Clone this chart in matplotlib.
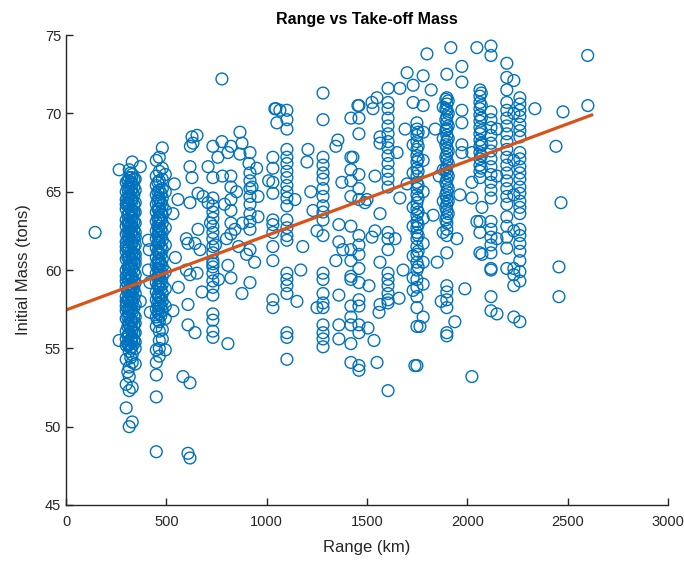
import matplotlib
matplotlib.use("Agg")
import matplotlib.pyplot as plt

plt.rcParams['font.family'] = ['Liberation Sans', 'DejaVu Sans']

# mass columns (tons) at fixed ranges (km)
col_ranges = [300, 308, 315, 323, 330, 338, 345, 312, 327, 450, 458, 465, 473, 480, 495,
              462, 732, 917, 822, 1031, 1101, 1281, 1420, 1460, 1605, 1730, 1749, 1755,
              1780, 1880, 1898, 1905, 1893, 2063, 2070, 2118, 2197, 2232, 2262]
col_masses = [
    [55.6, 56.1, 56.9, 57.4, 58.0, 58.3, 58.9, 59.6, 60.0, 60.7, 61.2, 61.5, 62.3, 62.8,
     63.2, 63.9, 64.5, 65.0, 65.6, 52.7, 54.3, 51.2, 55.2, 57.7, 59.3, 61.8, 64.2],
    [55.3, 55.8, 56.4, 57.0, 57.5, 58.1, 58.6, 59.1, 59.7, 60.2, 60.8, 61.3, 61.9, 62.4,
     63.0, 63.5, 64.1, 64.6, 65.2, 65.7, 53.5],
    [54.8, 55.3, 55.9, 56.5, 57.1, 57.6, 58.2, 58.7, 59.3, 59.8, 60.3, 60.9, 61.4, 62.0,
     62.5, 63.0, 63.6, 64.1, 64.7, 65.3, 65.9, 66.4, 53.8, 53.2, 50.0, 52.3, 60.1, 62.7],
    [55.0, 55.6, 56.3, 56.8, 57.4, 58.0, 58.5, 59.1, 59.6, 60.2, 60.7, 61.2, 61.8, 62.3,
     62.9, 63.4, 63.9, 64.5, 65.0, 65.6, 66.2, 54.4],
    [55.1, 55.7, 56.2, 56.7, 57.3, 57.9, 58.4, 59.0, 59.5, 60.1, 60.6, 61.1, 61.7, 62.2,
     62.8, 63.3, 63.8, 64.4, 64.9, 65.5, 66.1, 66.9, 54.1, 50.3, 52.5, 54.6, 58.7, 63.5],
    [55.5, 56.0, 56.5, 57.1, 57.6, 58.2, 58.8, 59.3, 59.9, 60.4, 61.0, 61.5, 62.1, 62.6,
     63.1, 63.7, 64.2, 64.8, 65.3, 65.8],
    [55.4, 56.0, 56.6, 57.0, 57.8, 58.5, 59.2, 59.7, 60.4, 61.0, 61.6, 62.4, 63.0, 63.7,
     64.3, 65.1, 65.8, 54.0, 55.0, 60.7, 62.1],
    [55.2, 55.9, 56.6, 57.3, 58.0, 58.7, 59.4, 60.1, 60.8, 61.5, 62.2, 62.9, 63.6, 64.3,
     65.0, 65.7],
    [55.4, 56.1, 56.8, 57.5, 58.2, 58.9, 59.6, 60.3, 61.0, 61.7, 62.4, 63.1, 63.8, 64.5,
     65.2, 65.9],
    [56.4, 57.0, 57.5, 58.1, 58.6, 59.2, 59.8, 60.3, 60.8, 61.4, 62.0, 62.5, 63.1, 63.7,
     64.2, 64.8, 65.4, 66.0, 67.0, 54.9, 54.1, 53.3, 51.9, 48.4],
    [56.8, 57.3, 57.9, 58.4, 59.0, 59.5, 60.1, 60.6, 61.2, 61.7, 62.2, 62.8, 63.3, 63.9,
     64.4, 65.0, 65.6],
    [55.5, 56.1, 56.7, 57.2, 57.8, 58.3, 58.9, 59.5, 60.0, 60.6, 61.1, 61.7, 62.3, 62.8,
     63.4, 63.9, 64.5, 65.1, 65.7, 66.3, 67.2, 54.5, 55.0],
    [57.1, 57.7, 58.2, 58.8, 59.3, 59.9, 60.4, 61.0, 61.5, 62.1, 62.6, 63.2, 63.7, 64.3,
     64.9],
    [57.4, 58.0, 58.5, 59.1, 59.6, 60.2, 60.7, 61.3, 61.9, 62.4, 63.0, 63.5, 64.1, 64.6,
     65.2, 65.8, 66.5, 67.8, 56.2, 55.6],
    [56.9, 58.8, 59.9, 61.6, 62.7, 63.8, 65.0, 66.1, 57.7, 54.9],
    [57.6, 58.3, 59.0, 59.7, 60.4, 61.1, 61.8, 62.5, 63.2, 63.9, 64.6],
    [58.4, 58.9, 59.3, 59.8, 60.2, 60.6, 61.1, 61.5, 62.0, 62.4, 62.8, 63.3, 63.7, 64.1,
     64.6, 65.9, 67.9, 57.2, 56.8, 56.1, 55.7, 60.4],
    [66.2, 65.7, 65.2, 64.7, 64.2, 63.6, 63.1, 62.6, 67.5, 61.3, 59.2],
    [66.0, 65.3, 64.5, 63.8, 63.0, 62.3, 59.5, 67.9],
    [67.2, 66.5, 65.6, 64.9, 62.9, 61.5, 60.6, 58.1, 57.6, 63.2, 62.4],
    [70.2, 69.6, 69.0, 67.7, 67.2, 66.8, 66.3, 65.9, 65.4, 65.0, 64.6, 64.1, 63.2, 62.7,
     62.2, 61.9, 59.8, 59.4, 59.0, 58.5, 56.0, 55.7, 54.3],
    [71.3, 69.6, 67.2, 66.7, 66.2, 65.8, 65.2, 64.7, 64.1, 63.7, 63.2, 62.2, 59.8, 59.4,
     58.5, 57.9, 57.6, 56.5, 56.0, 55.6, 55.1],
    [69.7, 67.2, 66.4, 65.7, 64.7, 62.8, 61.3, 60.6, 59.6, 59.4, 57.7, 57.0, 56.5, 55.3,
     54.1],
    [70.5, 69.7, 68.7, 66.1, 65.2, 64.5, 62.2, 61.6, 61.0, 60.1, 59.2, 58.1, 57.7, 56.5,
     56.0, 53.6, 53.9],
    [71.6, 70.7, 70.3, 69.7, 69.2, 68.7, 68.2, 67.8, 67.3, 66.8, 66.3, 65.8, 65.3, 62.4,
     62.0, 61.3, 59.8, 59.4, 59.0, 58.5, 58.1, 57.9, 52.3],
    [71.8, 70.7, 68.0, 66.2, 64.0, 62.8, 60.9, 59.5, 58.7],
    [69.4, 69.0, 68.6, 68.2, 67.7, 67.3, 66.9, 66.5, 66.0, 65.6, 65.2, 64.8, 64.3, 63.9,
     63.5, 63.1, 62.7, 62.4, 62.0, 61.5, 61.0, 60.5, 60.0, 59.4, 58.9, 58.3, 57.6, 56.4,
     53.9],
    [68.8, 67.9, 67.1, 66.3, 65.4, 64.6, 63.7, 62.9, 62.2, 61.2, 60.2],
    [72.4, 70.5, 68.8, 67.0, 65.0, 63.3, 61.7, 60.5, 59.1, 57.0],
    [70.4, 68.4, 66.4, 64.4, 62.4],
    [71.0, 70.6, 70.2, 69.8, 69.4, 69.0, 68.6, 68.2, 67.8, 67.4, 67.0, 66.6, 66.2, 65.8,
     65.4, 65.0, 64.6, 64.2, 63.8, 63.4, 63.0, 62.6, 62.2, 61.1, 59.0, 58.6, 58.1, 57.6,
     56.0, 55.8, 72.5],
    [70.8, 70.0, 69.2, 68.4, 67.6, 66.8, 66.0, 65.2, 64.4, 63.6],
    [70.9, 70.3, 69.6, 68.9, 68.0, 67.2, 66.4, 65.6, 64.8, 64.0, 63.2],
    [71.5, 71.1, 70.7, 70.3, 69.9, 69.5, 69.1, 68.7, 68.3, 67.9, 67.5, 67.1, 66.7, 66.3,
     65.9, 63.1, 62.4, 61.1],
    [71.3, 70.5, 69.7, 68.9, 68.1, 67.3, 66.5],
    [74.3, 73.7, 70.1, 69.6, 69.1, 68.6, 68.1, 67.6, 67.1, 66.6, 66.1, 65.6, 65.1, 64.6,
     63.1, 62.6, 62.1, 61.6, 61.1, 60.1, 60.0, 58.3, 57.4],
    [73.2, 72.3, 71.5, 70.7, 70.2, 69.7, 69.2, 68.7, 68.2, 67.7, 67.2, 66.7, 66.2, 65.7,
     65.2, 64.7, 64.2, 63.4, 62.8, 62.1, 61.4, 60.1],
    [72.1, 70.0, 67.0, 64.8, 62.5, 60.1, 59.7, 59.0, 57.0],
    [71.0, 70.6, 70.2, 69.8, 69.3, 68.9, 68.5, 67.5, 67.1, 66.6, 66.2, 65.8, 65.3, 64.9,
     64.4, 64.0, 63.6, 62.6, 62.2, 61.7, 61.2, 60.6, 59.9, 59.3, 56.7],
]

# loose points between the columns
extra_range = [145, 265, 265, 370, 370, 410, 415, 410, 418, 420, 533, 558, 533, 545, 560,
               540, 583, 608, 618, 618, 628, 633, 653, 628, 658, 658, 683, 643, 608, 668,
               618, 653, 678, 608, 608, 643, 618, 618, 600, 600, 620, 708, 708, 757, 720,
               745, 760, 777, 777, 867, 877, 807, 867, 912, 927, 957, 957, 842, 807, 807,
               877, 790, 850, 880, 900, 940, 800, 860, 780, 950, 1041, 1051, 1046, 1066,
               1010, 1141, 1151, 1206, 1201, 1231, 1251, 1180, 1220, 1170, 1251, 1355,
               1345, 1375, 1360, 1360, 1360, 1360, 1360, 1345, 1380, 1430, 1455, 1550,
               1525, 1530, 1565, 1565, 1490, 1565, 1565, 1525, 1565, 1505, 1550, 1560,
               1500, 1540, 1510, 1535, 1540, 1664, 1664, 1640, 1680, 1650, 1690, 1700,
               1660, 1700, 1799, 1764, 1739, 1820, 1840, 1860, 1830, 1850, 1870, 1918,
               1973, 1973, 1973, 1973, 1973, 1973, 1963, 2023, 2023, 2023, 2048, 1948,
               1938, 1988, 2023, 2048, 2073, 2073, 2073, 2148, 2148, 2148, 2148, 2337,
               2442, 2467, 2457, 2457, 2477, 2600, 2601]
extra_mass = [62.4, 55.5, 66.4, 66.6, 58.0, 61.9, 61.3, 60.0, 59.2, 57.3, 57.4, 64.5, 63.6,
              60.8, 58.9, 65.5, 53.2, 48.3, 48.0, 52.8, 68.5, 68.1, 68.6, 65.9, 62.6, 64.9,
              64.7, 61.7, 61.7, 61.3, 59.7, 59.8, 58.6, 57.8, 56.5, 56.0, 66.6, 64.3, 60.0,
              62.0, 67.9, 66.6, 64.3, 67.2, 63.0, 61.6, 59.4, 72.2, 68.2, 68.8, 68.1, 67.5,
              67.4, 66.8, 65.3, 64.7, 63.4, 62.6, 60.3, 55.3, 58.5, 64.2, 65.0, 63.0, 61.0,
              60.5, 62.0, 61.5, 66.0, 66.5, 70.3, 69.4, 70.3, 70.2, 65.7, 64.5, 58.0, 67.7,
              66.9, 63.8, 57.6, 61.5, 65.0, 60.0, 62.5, 68.3, 67.9, 65.6, 62.9, 61.8, 58.4,
              56.5, 55.6, 60.6, 61.3, 67.2, 70.5, 71.0, 70.7, 70.3, 68.5, 68.1, 64.3, 63.6,
              60.5, 62.1, 57.8, 56.3, 54.1, 57.3, 64.5, 62.5, 59.0, 55.5, 66.0, 71.6, 64.6,
              62.0, 60.0, 67.5, 69.0, 65.5, 58.2, 72.6, 73.8, 56.4, 53.9, 71.5, 69.0, 66.0,
              63.5, 60.5, 58.0, 74.2, 73.0, 72.0, 70.2, 69.4, 68.0, 67.5, 64.8, 67.5, 65.6,
              64.6, 63.1, 62.0, 56.7, 58.8, 53.2, 74.2, 64.0, 61.0, 68.0, 57.2, 62.0, 66.0,
              69.0, 70.3, 67.9, 64.3, 60.2, 58.3, 70.1, 73.7, 70.5]

# fitted line end points
fit_range = [0, 2620]
fit_mass = [57.45, 69.9]

range_km = []
mass_t = []
for r, ms in zip(col_ranges, col_masses):
    range_km += [r] * len(ms)
    mass_t += ms
range_km += extra_range
mass_t += extra_mass

fig = plt.figure(figsize=(6.84, 5.66), dpi=100)
ax = fig.add_axes([0.0965, 0.1078, 0.88, 0.8302])

ax.scatter(range_km, mass_t, s=72, facecolors='none', edgecolors='#0072BD', linewidths=1.0)
ax.plot(fit_range, fit_mass, color='#D95319', linewidth=2.3)

ax.set_xlim(0, 3000)
ax.set_ylim(45, 75)
ax.set_xticks(range(0, 3001, 500))
ax.set_yticks(range(45, 76, 5))
ax.spines['top'].set_visible(False)
ax.spines['right'].set_visible(False)
for s in ['left', 'bottom']:
    ax.spines[s].set_color('#262626')
    ax.spines[s].set_linewidth(1.0)
ax.tick_params(direction='in', length=5, width=1, colors='#262626', labelsize=10.5)
ax.tick_params(axis='x', pad=7)

ax.set_title('Range vs Take-off Mass', fontsize=11.5, fontweight='bold', color='black', pad=8)
ax.set_xlabel('Range (km)', fontsize=12, color='#262626', labelpad=8)
ax.set_ylabel('Initial Mass (tons)', fontsize=12, color='#262626', labelpad=10)

fig.savefig('out.png', dpi=100)
